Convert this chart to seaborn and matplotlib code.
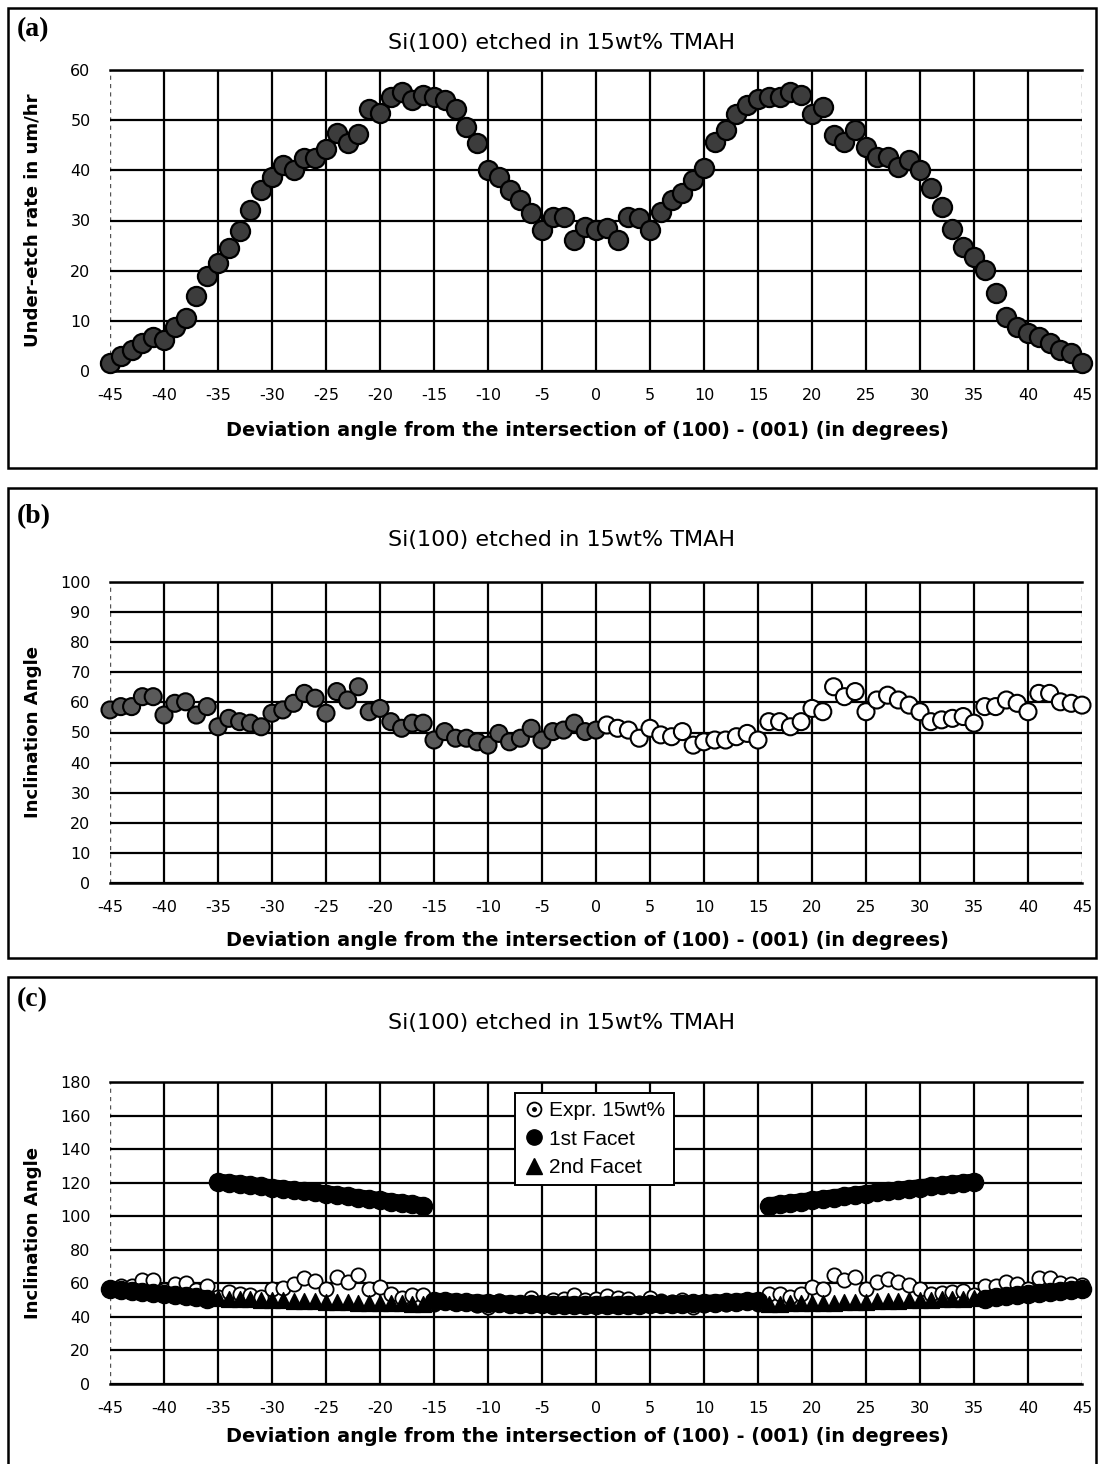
import matplotlib
matplotlib.use("Agg")
import matplotlib.pyplot as plt
from matplotlib.lines import Line2D
from matplotlib.patches import Rectangle
import seaborn as sns
import pandas as pd

# ---------------------------------------------------------------- data
angles = list(range(-45, 46))

# (a) under-etch rate, um/hr
etch_rate = [
    1.5, 2.9, 4.2, 5.6, 6.8, 6.2, 8.8, 10.5, 15.0, 19.0,          # -45 .. -36
    21.5, 24.5, 28.0, 32.0, 36.0, 38.7, 41.0, 40.0, 42.4, 42.4,    # -35 .. -26
    44.3, 47.5, 45.4, 47.3, 52.3, 51.4, 54.6, 55.6, 54.0, 55.0,    # -25 .. -16
    54.6, 54.0, 52.3, 48.7, 45.4, 40.0, 38.7, 36.0, 34.0, 31.4,    # -15 .. -6
    28.1, 30.7, 30.7, 26.1, 28.7, 28.1, 28.5, 26.1, 30.7, 30.5,    # -5 .. 4
    28.1, 31.7, 34.0, 35.4, 38.0, 40.4, 45.7, 48.0, 51.3, 53.0,    # 5 .. 14
    54.3, 54.6, 54.6, 55.6, 55.0, 51.3, 52.6, 47.0, 45.7, 48.0,    # 15 .. 24
    44.7, 42.7, 42.7, 40.7, 42.0, 40.0, 36.4, 32.7, 28.4, 24.8,    # 25 .. 34
    22.8, 20.1, 15.5, 10.8, 8.8, 7.5, 6.8, 5.5, 4.2, 3.5, 1.5,     # 35 .. 45
]

# (b), (c) measured inclination angle, 15wt% TMAH
inclination = [
    57.5, 58.6, 58.6, 61.9, 61.9, 55.8, 59.7, 60.2, 55.8, 58.6,    # -45 .. -36
    51.9, 54.7, 53.6, 53.1, 51.9, 56.4, 57.5, 59.7, 63.0, 61.4,    # -35 .. -26
    56.4, 63.6, 60.8, 65.2, 56.9, 58.0, 53.6, 51.4, 53.1, 53.1,    # -25 .. -16
    47.5, 50.3, 48.1, 48.1, 46.9, 45.8, 49.7, 46.9, 48.1, 51.4,    # -15 .. -6
    47.5, 50.3, 50.8, 53.1, 50.3, 50.8,                            # -5 .. 0
    52.5, 51.4, 50.8, 48.1, 51.4, 49.2, 48.6, 50.3, 45.8, 46.9,    # 1 .. 10
    47.5, 47.5, 48.6, 49.7, 47.5, 53.6, 53.6, 51.9, 53.6, 58.0,    # 11 .. 20
    56.9, 65.2, 61.9, 63.6, 56.9, 60.8, 62.4, 60.8, 59.1, 56.9,    # 21 .. 30
    53.6, 54.2, 54.7, 55.3, 53.1, 58.6, 58.6, 60.8, 59.7, 56.9,    # 31 .. 40
    63.0, 63.0, 60.2, 59.7, 59.1,                                  # 41 .. 45
]

# (c) calculated facet angles
facet1_angles = angles
facet1 = [
    56.5, 55.9, 55.3, 54.7, 54.1, 53.5, 52.9, 52.3, 51.6, 50.9,    # -45 .. -36
    120.5, 119.8, 119.2, 118.5, 117.8, 117.1, 116.4, 115.7, 115.0, 114.2,  # -35 .. -26
    113.5, 112.7, 111.9, 111.1, 110.3, 109.5, 108.7, 107.9, 107.1, 106.3,  # -25 .. -16
    49.5, 49.2, 48.9, 48.6, 48.4, 48.2, 48.0, 47.8, 47.6, 47.5,    # -15 .. -6
    47.4, 47.3, 47.2, 47.2, 47.1, 47.1, 47.1, 47.2, 47.2, 47.3,    # -5 .. 4
    47.4, 47.5, 47.6, 47.8, 48.0, 48.2, 48.4, 48.6, 48.9, 49.2,    # 5 .. 14
    49.5,                                                          # 15
    106.3, 107.1, 107.9, 108.7, 109.5, 110.3, 111.1, 111.9, 112.7, 113.5,  # 16 .. 25
    114.2, 115.0, 115.7, 116.4, 117.1, 117.8, 118.5, 119.2, 119.8, 120.5,  # 26 .. 35
    50.9, 51.6, 52.3, 52.9, 53.5, 54.1, 54.7, 55.3, 55.9, 56.5,    # 36 .. 45
]

facet2_angles = list(range(-35, -15)) + list(range(16, 36))
facet2 = [
    51.0, 50.8, 50.6, 50.4, 50.2, 50.0, 49.8, 49.6, 49.4, 49.2,    # -35 .. -26
    49.0, 48.8, 48.6, 48.4, 48.3, 48.2, 48.1, 48.0, 47.9, 47.8,    # -25 .. -16
    47.8, 47.9, 48.0, 48.1, 48.2, 48.3, 48.4, 48.6, 48.8, 49.0,    # 16 .. 25
    49.2, 49.4, 49.6, 49.8, 50.0, 50.2, 50.4, 50.6, 50.8, 51.0,    # 26 .. 35
]

title = "Si(100) etched in 15wt% TMAH"
xlabel = "Deviation angle from the intersection of (100) - (001) (in degrees)"
panel_labels = ["(a)", "(b)", "(c)"]
ylabels = ["Under-etch rate in um/hr", "Inclination Angle", "Inclination Angle"]
legend_labels = ["Expr. 15wt%", "1st Facet", "2nd Facet"]
x_ticks = list(range(-45, 46, 5))

df_rate = pd.DataFrame({"angle": angles, "rate": etch_rate})
df_incl = pd.DataFrame({"angle": angles, "incl": inclination})
df_incl["side"] = ["neg" if a <= 0 else "pos" for a in angles]
df_f1 = pd.DataFrame({"angle": facet1_angles, "incl": facet1})
# the first facet switches branch at +-15.5 and +-35.5 degrees
df_f1["branch"] = pd.cut(df_f1["angle"], [-46, -35.5, -15.5, 15.5, 35.5, 46],
                         labels=False)
df_f2 = pd.DataFrame({"angle": facet2_angles, "incl": facet2})

# ---------------------------------------------------------------- style
sns.set_style("white")
plt.rcParams["font.family"] = ["DejaVu Sans"]
plt.rcParams["axes.unicode_minus"] = False
plt.rcParams["text.color"] = "black"

W, H = 1098, 1464
fig = plt.figure(figsize=(W / 100, H / 100), dpi=100)


def fx(px):
    return px / W


def fy(py):
    return 1 - py / H


def make_axes(top, bottom):
    return fig.add_axes([fx(110), fy(bottom), (1082 - 110) / W, (bottom - top) / H])


def style_axes(ax, ymax, ystep):
    ax.set_xlim(-45, 45)
    ax.set_ylim(0, ymax)
    ax.set_xticks(x_ticks)
    ax.set_yticks(list(range(0, ymax + 1, ystep)))
    ax.grid(True, color="black", linewidth=1.6)
    ax.set_axisbelow(True)
    for side in ["right", "left"]:
        ax.spines[side].set_visible(False)
    for side in ["top", "bottom"]:
        ax.spines[side].set_color("black")
        ax.spines[side].set_linewidth(1.8)
    ax.tick_params(axis="x", direction="out", length=6, width=1.5, pad=6,
                   labelsize=11.5, colors="black")
    ax.tick_params(axis="y", length=0, pad=14, labelsize=11.5, colors="black")
    xg = ax.get_xgridlines()
    for g in (xg[0], xg[-1]):
        g.set_linestyle((0, (3, 3)))
        g.set_linewidth(1.0)
        g.set_color("#555555")


boxes = [(8, 468), (488, 958), (977, 1475)]
axes_rows = [(70, 371, 60, 10), (582, 883, 100, 10), (1082, 1384, 180, 20)]
label_y = [30, 517, 1000]
title_y = [43, 540, 1023]
xlabel_y = [430, 940, 1437]

axes = []
for i, ((t, b, ymax, step), (bt, bb)) in enumerate(zip(axes_rows, boxes)):
    fig.add_artist(Rectangle((fx(8), fy(bb)), fx(1096) - fx(8), (bb - bt) / H,
                             transform=fig.transFigure, fill=False,
                             edgecolor="black", linewidth=1.8))
    ax = make_axes(t, b)
    style_axes(ax, ymax, step)
    axes.append(ax)
    fig.text(fx(17), fy(label_y[i]), panel_labels[i], family="Liberation Serif",
             weight="bold", size=20, ha="left", va="center")
    fig.text(fx(562), fy(title_y[i]), title, size=16, ha="center", va="center")
    fig.text(fx(587), fy(xlabel_y[i]), xlabel, size=13.9, weight="bold",
             ha="center", va="center")
    fig.text(fx(33), fy((t + b) / 2), ylabels[i], size=13.1, weight="bold",
             rotation=90, ha="center", va="center")

# (a) under-etch rate
sns.scatterplot(data=df_rate, x="angle", y="rate", ax=axes[0], s=190,
                color="#3c3c3c", edgecolor="black", linewidth=1.6,
                legend=False, zorder=3, clip_on=False)

# (b) inclination angle
sns.scatterplot(data=df_incl, x="angle", y="incl", hue="side",
                palette={"neg": "#5a5a5a", "pos": "white"}, ax=axes[1], s=150,
                edgecolor="black", linewidth=1.5, legend=False, zorder=3,
                clip_on=False)

# (c) measured vs calculated facets
axc = axes[2]
sns.scatterplot(data=df_incl, x="angle", y="incl", ax=axc, s=105, color="white",
                edgecolor="black", linewidth=1.3, legend=False, zorder=3,
                clip_on=False)
sns.lineplot(data=df_f1, x="angle", y="incl", units="branch", estimator=None,
             ax=axc, color="black", linewidth=12, solid_capstyle="round",
             legend=False, zorder=4)
sns.scatterplot(data=df_f1, x="angle", y="incl", ax=axc, s=170, color="black",
                edgecolor="black", linewidth=1.0, legend=False, zorder=4,
                clip_on=False)
sns.scatterplot(data=df_f2, x="angle", y="incl", ax=axc, s=130, marker="^",
                color="black", edgecolor="black", linewidth=1.0, legend=False,
                zorder=5, clip_on=False)
for ax in axes:
    ax.set_xlabel("")
    ax.set_ylabel("")

expr_handle = (
    Line2D([], [], marker="o", ls="", markerfacecolor="white",
           markeredgecolor="black", markersize=10, markeredgewidth=1.3),
    Line2D([], [], marker="o", ls="", color="black", markersize=2.5),
)
f1_handle = Line2D([], [], marker="o", ls="", color="black", markersize=11)
f2_handle = Line2D([], [], marker="^", ls="", color="black", markersize=11)
leg = axc.legend([expr_handle, f1_handle, f2_handle], legend_labels,
                 loc="upper left", bbox_to_anchor=(0.4167, 0.9636),
                 frameon=True, fancybox=False, edgecolor="black", framealpha=1,
                 handletextpad=0.25, handlelength=1.0, borderpad=0.4,
                 labelspacing=0.45, borderaxespad=0,
                 prop={"family": "Liberation Sans", "size": 15})
leg.get_frame().set_linewidth(1.4)
leg.set_zorder(10)

fig.savefig("out.png", dpi=100, facecolor="white")
